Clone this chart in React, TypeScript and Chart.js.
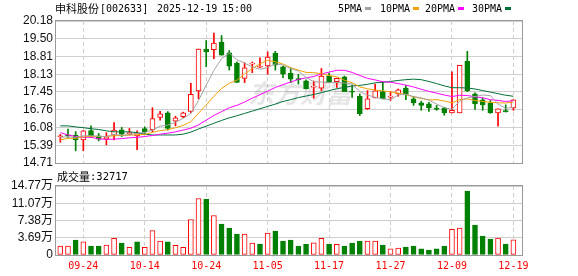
import React, { useEffect, useRef } from 'react';
import { Chart, registerables } from 'chart.js';

Chart.register(...registerables);

const stockName = '申科股份';
const stockCode = '002633';
const quoteDate = '2025-12-19';
const quoteTime = '15:00';
const volumeTitle = '成交量';

const dates = [
  '09-19', '09-22', '09-23', '09-24', '09-25', '09-26', '09-29', '09-30', '10-09', '10-10',
  '10-13', '10-14', '10-15', '10-16', '10-17', '10-20', '10-21', '10-22', '10-23', '10-24',
  '10-27', '10-28', '10-29', '10-30', '10-31', '11-03', '11-04', '11-05', '11-06', '11-07',
  '11-10', '11-11', '11-12', '11-13', '11-14', '11-17', '11-18', '11-19', '11-20', '11-21',
  '11-24', '11-25', '11-26', '11-27', '11-28', '12-01', '12-02', '12-03', '12-04', '12-05',
  '12-08', '12-09', '12-10', '12-11', '12-12', '12-15', '12-16', '12-17', '12-18', '12-19',
];

const openP = [
  15.72, 15.78, 15.79, 15.60, 15.96, 15.76, 15.63, 15.79, 15.99, 15.84,
  15.75, 16.04, 15.98, 16.47, 16.64, 16.32, 16.49, 16.70, 17.49, 19.10,
  19.08, 19.37, 18.95, 18.55, 17.97, 18.52, 18.40, 18.45, 18.93, 18.41,
  18.16, 17.95, 17.88, 17.63, 17.59, 18.06, 17.84, 18.03, 17.48, 17.28,
  16.80, 17.22, 17.46, 17.25, 17.37, 17.60, 17.18, 17.03, 16.99, 16.83,
  16.83, 16.64, 16.64, 18.63, 17.37, 17.14, 17.02, 16.64, 16.72, 16.83,
];
const highP = [
  15.81, 16.02, 15.92, 15.96, 16.14, 15.85, 15.88, 16.27, 16.08, 16.04,
  15.95, 16.10, 16.84, 16.70, 16.69, 16.51, 16.67, 17.78, 19.10, 19.43,
  19.71, 19.62, 19.04, 18.61, 18.57, 18.60, 18.76, 18.99, 19.01, 18.43,
  18.38, 18.13, 17.91, 17.87, 18.35, 18.16, 17.98, 18.06, 17.69, 17.37,
  17.50, 17.75, 17.84, 17.46, 17.56, 17.69, 17.28, 17.09, 17.05, 16.93,
  16.86, 18.22, 18.47, 19.01, 17.41, 17.22, 17.12, 16.80, 16.95, 17.14,
];
const lowP = [
  15.51, 15.70, 15.18, 15.18, 15.69, 15.56, 15.41, 15.60, 15.73, 15.79,
  15.22, 15.85, 15.91, 16.36, 15.98, 16.14, 16.46, 16.64, 17.18, 18.42,
  18.73, 18.86, 18.29, 17.81, 17.81, 18.19, 18.38, 18.13, 18.29, 18.00,
  17.81, 17.75, 17.56, 17.21, 17.50, 17.81, 17.62, 17.46, 17.24, 16.54,
  16.77, 17.22, 17.18, 17.12, 17.28, 17.15, 16.93, 16.74, 16.70, 16.74,
  16.55, 16.64, 16.64, 17.46, 16.77, 16.74, 16.62, 16.13, 16.67, 16.74,
];
const closeP = [
  15.74, 15.76, 15.60, 15.95, 15.76, 15.63, 15.72, 15.98, 15.82, 15.87,
  15.86, 15.91, 16.42, 16.60, 16.04, 16.45, 16.64, 17.36, 19.10, 18.99,
  19.33, 18.86, 18.44, 17.81, 18.38, 18.56, 18.43, 18.79, 18.48, 18.13,
  17.94, 17.92, 17.56, 17.66, 18.06, 17.81, 17.97, 17.46, 17.44, 16.61,
  17.18, 17.49, 17.18, 17.28, 17.53, 17.33, 17.02, 16.93, 16.83, 16.77,
  16.64, 16.74, 18.47, 17.49, 16.99, 16.95, 16.65, 16.80, 16.69, 17.14,
];
const volumes = [
  19000, 19000, 32000, 28000, 19000, 19000, 21000, 35500, 25500, 16500,
  28000, 16500, 52500, 30000, 28000, 20500, 16500, 76000, 121000, 119000,
  84500, 66000, 57500, 45000, 45000, 25500, 23500, 47000, 51000, 30000,
  32000, 19000, 23000, 26000, 35500, 23000, 23000, 19000, 25500, 30000,
  30000, 30000, 21000, 13000, 15000, 17000, 19000, 13000, 10500, 13000,
  19000, 55000, 57500, 137000, 64000, 40500, 34000, 36000, 23500, 32717,
];

const ma5 = [
  15.70, 15.72, 15.70, 15.76, 15.76, 15.74, 15.73, 15.81, 15.78, 15.80,
  15.85, 15.89, 15.98, 16.13, 16.17, 16.28, 16.43, 16.62, 17.12, 17.71,
  18.28, 18.73, 18.94, 18.69, 18.56, 18.41, 18.32, 18.39, 18.53, 18.48,
  18.35, 18.25, 18.01, 17.84, 17.83, 17.80, 17.81, 17.79, 17.75, 17.46,
  17.33, 17.24, 17.18, 17.15, 17.33, 17.36, 17.27, 17.22, 17.13, 16.98,
  16.84, 16.78, 17.09, 17.22, 17.27, 17.33, 17.31, 16.98, 16.82, 16.85,
];
const ma10 = [
  15.60, 15.66, 15.66, 15.72, 15.73, 15.73, 15.73, 15.76, 15.77, 15.78,
  15.80, 15.81, 15.89, 15.96, 15.99, 16.07, 16.16, 16.30, 16.63, 16.94,
  17.28, 17.58, 17.78, 17.90, 18.14, 18.35, 18.53, 18.67, 18.61, 18.52,
  18.38, 18.29, 18.20, 18.19, 18.15, 18.08, 18.03, 17.90, 17.80, 17.64,
  17.57, 17.52, 17.49, 17.45, 17.40, 17.35, 17.25, 17.20, 17.14, 17.15,
  17.10, 17.03, 17.15, 17.18, 17.12, 17.08, 17.05, 17.03, 17.02, 17.06,
];
const ma20 = [
  15.88, 15.79, 15.73, 15.70, 15.70, 15.64, 15.62, 15.63, 15.65, 15.68,
  15.70, 15.73, 15.77, 15.82, 15.86, 15.91, 15.98, 16.05, 16.18, 16.36,
  16.54, 16.69, 16.84, 16.93, 17.06, 17.21, 17.34, 17.48, 17.62, 17.73,
  17.83, 17.93, 17.99, 18.04, 18.14, 18.21, 18.28, 18.28, 18.20, 18.08,
  17.97, 17.91, 17.84, 17.82, 17.77, 17.71, 17.64, 17.55, 17.47, 17.40,
  17.33, 17.27, 17.32, 17.31, 17.26, 17.22, 17.15, 17.12, 17.08, 17.11,
];
const ma30 = [
  16.14, 16.14, 16.10, 16.07, 16.03, 16.00, 15.95, 15.91, 15.91, 15.91,
  15.88, 15.82, 15.79, 15.79, 15.79, 15.79, 15.82, 15.90, 16.02, 16.13,
  16.24, 16.35, 16.45, 16.53, 16.62, 16.71, 16.80, 16.89, 16.98, 17.08,
  17.15, 17.23, 17.29, 17.35, 17.42, 17.50, 17.57, 17.62, 17.68, 17.70,
  17.74, 17.80, 17.82, 17.85, 17.89, 17.92, 17.94, 17.92, 17.85, 17.77,
  17.68, 17.61, 17.61, 17.60, 17.56, 17.50, 17.44, 17.38, 17.32, 17.28,
];

const maNames = ['5PMA', '10PMA', '20PMA', '30PMA'];
const priceTicks = [14.71, 15.39, 16.08, 16.76, 17.45, 18.13, 18.81, 19.5, 20.18];
const volumeTicks = [0, 36900, 73800, 110700, 147700];
const xTickIdx = [3, 11, 19, 27, 35, 43, 51, 59];

const RED = '#ff0000';
const GREEN = '#008000';
const MA_COLORS = ['#a3a3a3', '#f2a000', '#ff00ff', '#00703a'];
const GRID = '#cfcfcf';
const FRAME = '#999999';
const MONO = '"DejaVu Sans Mono", "Liberation Mono", monospace';
const SANS = '"Liberation Sans", "Noto Sans CJK SC", sans-serif';
const CJK = '"Noto Sans CJK SC", sans-serif';

export default function App() {
  const priceRef = useRef<HTMLCanvasElement>(null);
  const volRef = useRef<HTMLCanvasElement>(null);

  useEffect(() => {
    const n = closeP.length;
    const idx = Array.from({ length: n }, (_, i) => i);
    const candleUp = idx.map(
      (i) => closeP[i] > openP[i] || (closeP[i] === openP[i] && (i === 0 || closeP[i] >= closeP[i - 1]))
    );
    const volUp = idx.map((i) => i === 0 || closeP[i] >= closeP[i - 1]);

    const makeX = (showLabels: boolean) => ({
      type: 'linear' as const,
      min: -0.56,
      max: 60.12,
      bounds: 'data' as const,
      offset: false,
      afterBuildTicks: (s: any) => {
        s.ticks = xTickIdx.map((v) => ({ value: v }));
      },
      afterFit: (s: any) => {
        s.height = showLabels ? 21 : 0;
      },
      grid: { color: GRID, lineWidth: 1, drawTicks: false, offset: false },
      border: { display: false, dash: [4, 3] },
      ticks: {
        display: showLabels,
        autoSkip: false,
        maxRotation: 0,
        padding: 5,
        color: RED,
        font: { family: MONO, size: 10 },
        callback: (v: any) => dates[v] ?? '',
      },
    });

    const framePlugin = {
      id: 'frame',
      afterDraw(chart: any) {
        const { ctx, chartArea: a } = chart;
        ctx.save();
        ctx.strokeStyle = FRAME;
        ctx.lineWidth = 1;
        ctx.strokeRect(Math.round(a.left) - 0.5, Math.round(a.top) - 0.5, Math.round(a.right - a.left) + 1, Math.round(a.bottom - a.top) + 1);
        ctx.restore();
      },
    };

    const watermarkPlugin = {
      id: 'watermark',
      beforeDatasetsDraw(chart: any) {
        const { ctx } = chart;
        ctx.save();
        ctx.fillStyle = 'rgba(0,0,0,0.1)';
        ctx.font = `italic bold 26px ${CJK}`;
        ctx.textAlign = 'center';
        ctx.textBaseline = 'middle';
        ctx.fillText('东方财富', 300, 93);
        ctx.restore();
      },
    };

    const headerPlugin = {
      id: 'header',
      afterDraw(chart: any) {
        const { ctx } = chart;
        ctx.save();
        ctx.textBaseline = 'middle';
        ctx.fillStyle = '#000';
        ctx.font = `11px ${CJK}`;
        ctx.fillText(stockName, 55, 9);
        ctx.font = `10px ${MONO}`;
        ctx.fillText('[' + stockCode + ']', 100, 9);
        ctx.fillText(quoteDate, 157, 9);
        ctx.fillText(quoteTime, 222, 9);
        const lx = [338, 380, 425, 472];
        maNames.forEach((name, k) => {
          ctx.fillStyle = '#000';
          ctx.fillText(name, lx[k], 9);
          const w = ctx.measureText(name).width;
          ctx.fillStyle = MA_COLORS[k];
          ctx.fillRect(Math.round(lx[k] + w + 3), 7, 6, 3);
        });
        ctx.restore();
      },
    };

    const volHeaderPlugin = {
      id: 'volHeader',
      afterDraw(chart: any) {
        const { ctx } = chart;
        ctx.save();
        ctx.textBaseline = 'middle';
        ctx.fillStyle = '#000';
        ctx.font = `11px ${CJK}`;
        ctx.fillText(volumeTitle, 57, 9);
        const w = ctx.measureText(volumeTitle).width;
        ctx.font = `10.5px ${MONO}`;
        ctx.fillText(':' + String(volumes[n - 1]), 57 + w, 9);
        ctx.restore();
      },
    };

    const maSets = [ma5, ma10, ma20, ma30].map((arr, k) => ({
      type: 'line' as const,
      label: maNames[k],
      data: idx.map((i) => ({ x: i, y: arr[i] })),
      borderColor: MA_COLORS[k],
      borderWidth: 1,
      pointRadius: 0,
      fill: false,
      tension: 0,
      order: 0,
    }));

    const price = new Chart(priceRef.current as HTMLCanvasElement, {
      type: 'bar',
      data: {
        datasets: [
          {
            type: 'bar',
            label: 'wick',
            data: idx.map((i) => ({ x: i, y: [lowP[i], highP[i]] })) as any,
            backgroundColor: idx.map((i) => (candleUp[i] ? RED : GREEN)),
            barThickness: 1,
            grouped: false,
            order: 2,
          },
          {
            type: 'bar',
            label: 'body',
            data: idx.map((i) => ({ x: i, y: [openP[i], closeP[i]] })) as any,
            backgroundColor: idx.map((i) => (candleUp[i] ? '#ffffff' : GREEN)),
            borderColor: idx.map((i) => (candleUp[i] ? RED : GREEN)),
            borderWidth: 1,
            borderSkipped: false,
            barThickness: 5,
            minBarLength: 1,
            grouped: false,
            order: 1,
          },
          ...maSets,
        ] as any,
      },
      options: {
        responsive: false,
        maintainAspectRatio: false,
        animation: false,
        events: [],
        layout: { padding: { left: 0, right: 56, top: 21, bottom: 7 } },
        plugins: { legend: { display: false }, tooltip: { enabled: false } },
        scales: {
          x: makeX(false) as any,
          y: {
            type: 'linear',
            position: 'left',
            min: 14.71,
            max: 20.18,
            beginAtZero: false,
            afterBuildTicks: (s: any) => {
              s.ticks = priceTicks.map((v) => ({ value: v }));
            },
            afterFit: (s: any) => {
              s.width = 56;
            },
            grid: { color: GRID, lineWidth: 1, drawTicks: false },
            border: { display: false },
            ticks: {
              padding: 3,
              color: '#111',
              font: { family: SANS, size: 12, lineHeight: 1 },
              callback: (v: any) => Number(v).toFixed(2),
            },
          },
        },
      },
      plugins: [watermarkPlugin, framePlugin, headerPlugin],
    });

    const vol = new Chart(volRef.current as HTMLCanvasElement, {
      type: 'bar',
      data: {
        datasets: [
          {
            label: 'volume',
            data: idx.map((i) => ({ x: i, y: volumes[i] })) as any,
            backgroundColor: idx.map((i) => (volUp[i] ? '#ffffff' : GREEN)),
            borderColor: idx.map((i) => (volUp[i] ? RED : GREEN)),
            borderWidth: 1,
            borderSkipped: false,
            barThickness: 5,
            grouped: false,
          },
        ] as any,
      },
      options: {
        responsive: false,
        maintainAspectRatio: false,
        animation: false,
        events: [],
        layout: { padding: { left: 0, right: 56, top: 18, bottom: 0 } },
        plugins: { legend: { display: false }, tooltip: { enabled: false } },
        scales: {
          x: makeX(true) as any,
          y: {
            type: 'linear',
            position: 'left',
            min: 0,
            max: 147700,
            afterBuildTicks: (s: any) => {
              s.ticks = volumeTicks.map((v) => ({ value: v }));
            },
            afterFit: (s: any) => {
              s.width = 56;
            },
            grid: { color: GRID, lineWidth: 1, drawTicks: false },
            border: { display: false },
            ticks: {
              padding: 3,
              color: '#111',
              font: { family: SANS, size: 12, lineHeight: 1 },
              callback: (v: any) => (Number(v) === 0 ? '0' : (Number(v) / 10000).toFixed(2) + '万'),
            },
          },
        },
      },
      plugins: [framePlugin, volHeaderPlugin],
    });

    return () => {
      price.destroy();
      vol.destroy();
    };
  }, []);

  return (
    <div style={{ position: 'absolute', left: 0, top: 0, width: 578, height: 276, background: '#fff' }}>
      <canvas
        ref={priceRef}
        width={578}
        height={172}
        style={{ position: 'absolute', left: 0, top: 0, width: 578, height: 172 }}
      />
      <canvas
        ref={volRef}
        width={578}
        height={108}
        style={{ position: 'absolute', left: 0, top: 168, width: 578, height: 108 }}
      />
    </div>
  );
}
